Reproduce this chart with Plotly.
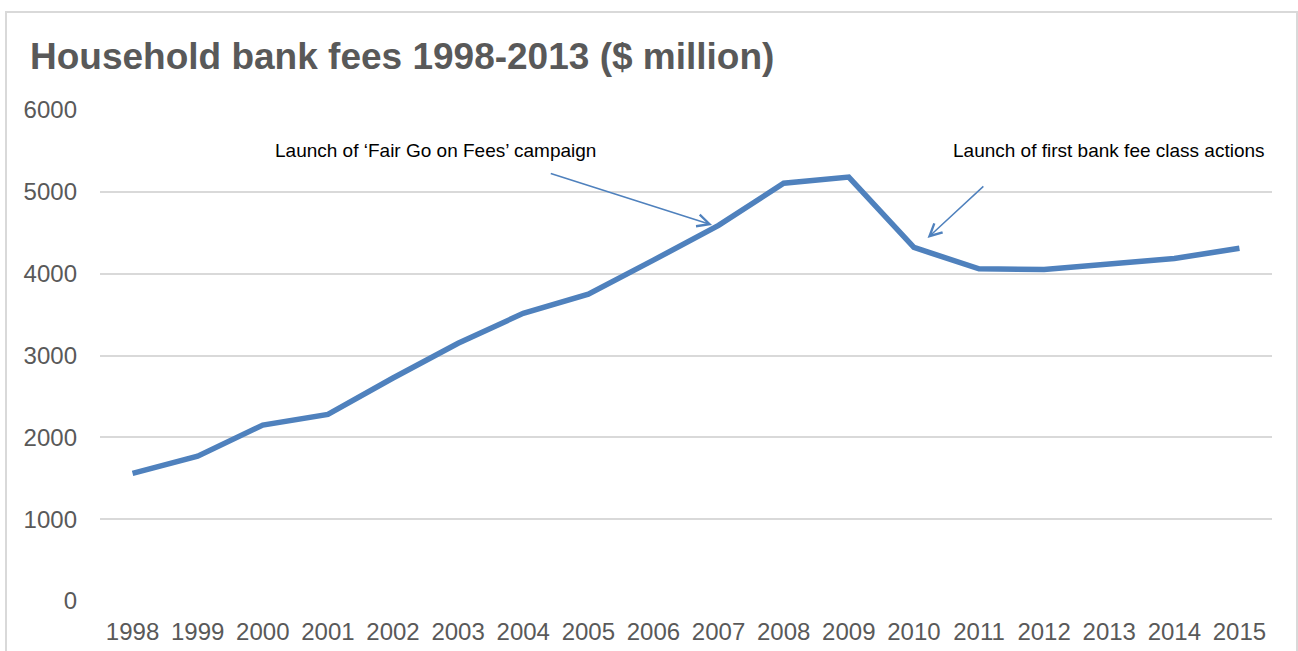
import plotly.graph_objects as go

years = list(range(1998, 2016))
fees = [1560, 1770, 2150, 2280, 2725, 3150, 3515, 3750, 4165, 4590,
        5105, 5180, 4320, 4060, 4050, 4120, 4185, 4310]
year_labels = [str(y) for y in years]
y_ticks = [0, 1000, 2000, 3000, 4000, 5000, 6000]

title_text = "Household bank fees 1998-2013 ($ million)"
note1 = "Launch of \u2018Fair Go on Fees\u2019 campaign"
note2 = "Launch of first bank fee class actions"

BLUE = "#4F81BD"
GREY = "#595959"
GRID = "#d9d9d9"

fig = go.Figure()
fig.add_trace(go.Scatter(x=years, y=fees, mode="lines",
                         line=dict(color=BLUE, width=5.5), hoverinfo="skip",
                         showlegend=False))

W, H = 1298, 651
L, R, T, B = 100, 26, 110, 50
pw, ph = W - L - R, H - T - B

def px(x):
    return (x - L) / pw

def py(y):
    return (H - B - y) / ph

fig.update_layout(
    width=W, height=H,
    margin=dict(l=L, r=R, t=T, b=B),
    paper_bgcolor="white", plot_bgcolor="white",
    font=dict(family="Liberation Sans, Arial, sans-serif", color=GREY),
    xaxis=dict(range=[1997.5, 2015.5], tickvals=years, ticktext=year_labels,
               showgrid=False, zeroline=False, showline=False, ticks="",
               tickfont=dict(size=24, color=GREY), ticklabelstandoff=14,
               automargin=False),
    yaxis=dict(range=[0, 6000], tickvals=y_ticks, showgrid=True,
               gridcolor=GRID, gridwidth=2, zeroline=False, showline=False,
               ticks="", tickfont=dict(size=24, color=GREY),
               ticklabelstandoff=22, automargin=False),
    shapes=[dict(type="rect", xref="paper", yref="paper",
                 x0=px(6), x1=px(1297), y0=py(660), y1=py(12),
                 line=dict(color=GRID, width=2), fillcolor="rgba(0,0,0,0)",
                 layer="below")],
)

annotations = [
    dict(text="<b>" + title_text + "</b>", xref="paper", yref="paper",
         x=px(28), y=py(56), xanchor="left", yanchor="middle",
         showarrow=False, font=dict(size=37, color=GREY)),
    dict(text=note1, xref="x", yref="y", x=2000.15, y=5500,
         xanchor="left", yanchor="middle", showarrow=False,
         font=dict(size=19, color="black")),
    dict(text=note2, xref="x", yref="y", x=2015.43, y=5510,
         xanchor="right", yanchor="middle", showarrow=False,
         font=dict(size=19, color="black")),
    dict(text="", xref="x", yref="y", x=2006.9, y=4595,
         axref="x", ayref="y", ax=2004.4, ay=5230, showarrow=True,
         arrowhead=5, arrowsize=1.6, arrowwidth=1.5, arrowcolor=BLUE),
    dict(text="", xref="x", yref="y", x=2010.21, y=4436,
         axref="x", ayref="y", ax=2011.09, ay=5084, showarrow=True,
         arrowhead=5, arrowsize=1.6, arrowwidth=1.5, arrowcolor=BLUE),
]
fig.update_layout(annotations=annotations)

fig.write_html("out.html")
